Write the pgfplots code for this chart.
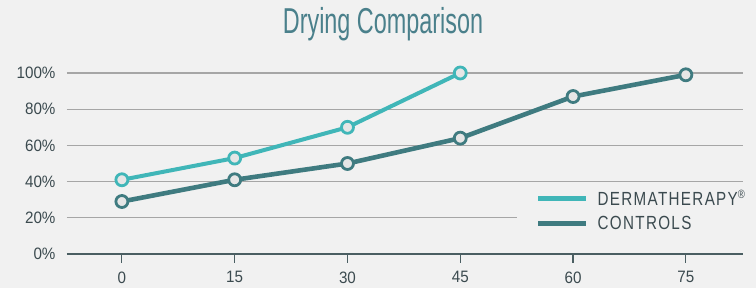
\documentclass[border=0pt]{standalone}
\usepackage{pgfplots}
\pgfplotsset{compat=1.18}
\usepackage{fontspec}
\setmainfont{Liberation Sans}
\newfontfamily\titlefont{Liberation Sans}[FakeStretch=0.65]
\newfontfamily\tickfont{Liberation Sans}[FakeStretch=0.92]
\newfontfamily\legfont{Liberation Sans}[FakeStretch=0.8,LetterSpace=7]
\definecolor{bg}{HTML}{F1F1F1}
\definecolor{derma}{HTML}{40B6B8}
\definecolor{ctrl}{HTML}{3F7B80}
\definecolor{titlecol}{HTML}{4A808B}
\definecolor{gridcol}{HTML}{A6A6A6}
\definecolor{axiscol}{HTML}{4A5E62}
\definecolor{labelcol}{HTML}{3B4A4F}
\definecolor{mkfill}{HTML}{E6E6E6}
\begin{document}
\begin{tikzpicture}[x=1pt,y=1pt]
\useasboundingbox (0,0) rectangle (756,288);
\fill[bg] (0,0) rectangle (756,288);
\node[anchor=base, text=titlecol, font=\titlefont\fontsize{36}{36}\selectfont, inner sep=0pt] at (383,254) {Drying Comparison};
\begin{axis}[
  at={(67pt,34pt)}, anchor=south west,
  scale only axis, width=676pt, height=181pt,
  xmin=-7.3, xmax=82.6, ymin=0, ymax=100,
  clip=false,
  axis x line*=bottom, axis y line*=left,
  x axis line style={draw=axiscol, line width=1.2pt, -},
  y axis line style={draw=none},
  xtick={0,15,30,45,60,75},
  ytick={0,20,40,60,80,100},
  yticklabel={\pgfmathprintnumber{\tick}\%},
  ymajorgrids, grid style={draw=gridcol, line width=1.3pt},
  x tick style={draw=axiscol, line width=1.2pt},
  y tick style={draw=none},
  tick align=outside, major tick length=9pt,
  /pgf/number format/assume math mode=true,
  tick label style={font=\tickfont\fontsize{16.5}{16.5}\selectfont, text=labelcol},
  yticklabel style={xshift=1pt},
  xticklabel style={yshift=-5pt},
  legend style={at={(axis cs:52.5,38.5)}, anchor=north west, fill=bg, draw=none,
    inner xsep=19pt, inner ysep=4pt,
    font=\legfont\fontsize{19}{19}\selectfont, text=labelcol,
    row sep=5.5pt, cells={anchor=west}},
  legend image code/.code={\draw[#1, mark=none, line width=5pt] (0pt,0pt) -- (48pt,0pt);\path (55pt,0pt);},
]
\addplot[color=derma, line width=4pt, mark=*, mark size=6pt,
  mark options={line width=2.8pt, draw=derma, fill=mkfill}]
  coordinates {(0,41) (15,53) (30,70) (45,100)};
\addlegendentry{DERMATHERAPY\textsuperscript{\fontsize{12}{12}\selectfont\textregistered}}
\addplot[color=ctrl, line width=4.6pt, mark=*, mark size=6pt,
  mark options={line width=2.8pt, draw=ctrl, fill=mkfill}]
  coordinates {(0,29) (15,41) (30,50) (45,64) (60,87) (75,99)};
\addlegendentry{CONTROLS}
\end{axis}
\end{tikzpicture}
\end{document}
